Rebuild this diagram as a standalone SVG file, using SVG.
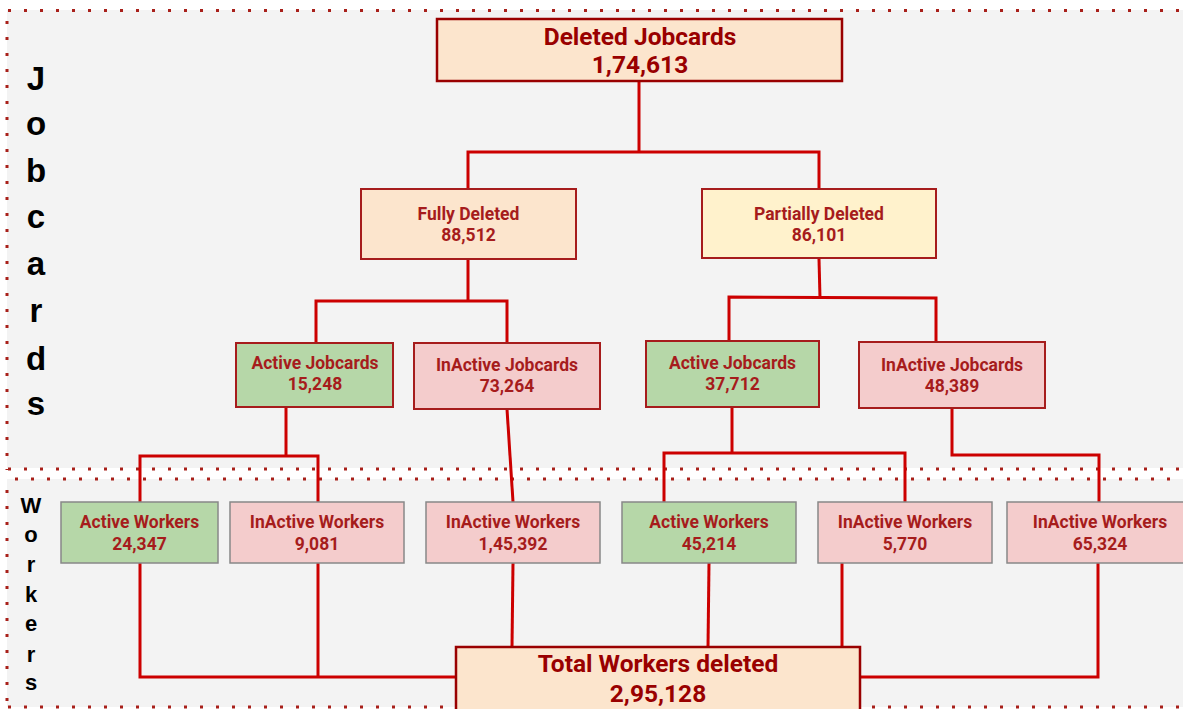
<svg xmlns="http://www.w3.org/2000/svg" width="1183" height="709" viewBox="0 0 1183 709">
<style>
.panel{fill:#f3f3f3}
.dot{fill:none;stroke:#a8201a;stroke-width:3;stroke-dasharray:3 13}
.side{font-family:"Liberation Sans",Arial,sans-serif;font-weight:bold;fill:#000;text-anchor:middle}
.conn{fill:none;stroke:#cc0000;stroke-width:3;stroke-linejoin:miter}
.peach{fill:#fce5cd}
.yellow{fill:#fff2cc}
.green{fill:#b6d7a8}
.pink{fill:#f4cccc}
.jb{stroke:#a61c1c;stroke-width:2}
.big{stroke:#990000;stroke-width:2.5}
.wk{stroke:#888888;stroke-width:1.5}
.t{font-family:Roboto,"Liberation Sans",sans-serif;font-weight:bold;text-anchor:middle;fill:#a61c1c;font-size:17.5px}
.tb{font-family:Roboto,"Liberation Sans",sans-serif;font-weight:bold;text-anchor:middle;fill:#990000;font-size:24.5px}
</style>
<rect width="1183" height="709" fill="#ffffff"/>
<g id="panels">
<rect class="panel" x="7" y="10" width="1176" height="458"/>
<rect class="panel" x="7" y="479" width="1176" height="228"/>
<line class="dot" x1="8" y1="10.5" x2="1183" y2="10.5"/>
<line class="dot" x1="7" y1="21" x2="7" y2="470"/>
<line class="dot" x1="8" y1="469" x2="1183" y2="469"/>
<line class="dot" x1="15" y1="479" x2="1183" y2="479"/>
<line class="dot" x1="7" y1="490" x2="7" y2="709"/>
<line class="dot" x1="8" y1="707" x2="1183" y2="707"/>
</g>
<g id="label-jobcards" class="side" font-size="33">
<text x="36" y="90">J</text>
<text x="36" y="135">o</text>
<text x="36" y="182">b</text>
<text x="36" y="228">c</text>
<text x="36" y="275">a</text>
<text x="36" y="322">r</text>
<text x="36" y="370">d</text>
<text x="36" y="415">s</text>
</g>
<g id="label-workers" class="side" font-size="22">
<text x="31" y="513">W</text>
<text x="31" y="542">o</text>
<text x="31" y="572">r</text>
<text x="31" y="602">k</text>
<text x="31" y="631">e</text>
<text x="31" y="662">r</text>
<text x="31" y="690">s</text>
</g>
<g id="connectors" class="conn">
<polyline points="639,81 639,152"/>
<polyline points="468,189 468,152 819,152 819,189"/>
<polyline points="468,259 468,301"/>
<polyline points="316,343 316,301 507,301 507,343"/>
<polyline points="819,259 820,298"/>
<polyline points="729,341 729,297 936,298 936,342"/>
<polyline points="286,407 286,456"/>
<polyline points="140,502 140,456 318,456 318,502"/>
<polyline points="507,409 513,502"/>
<polyline points="732,407 732,453"/>
<polyline points="664,502 664,453 905,453 905,502"/>
<polyline points="952,408 952,455 1099,455 1099,502"/>
<polyline points="140,563 140,677 456,677"/>
<polyline points="318,563 318,677"/>
<polyline points="513,563 512,647"/>
<polyline points="709,563 708,647"/>
<polyline points="842,563 842,647"/>
<polyline points="1098,556 1098,677 860,677"/>
</g>
<g id="n-deleted-jobcards">
<rect class="peach big" x="437" y="19" width="405" height="62"/>
<text class="tb" x="640" y="45">Deleted Jobcards</text>
<text class="tb" x="640" y="73">1,74,613</text>
</g>
<g id="n-fully-deleted">
<rect class="peach jb" x="361" y="189" width="215" height="70"/>
<text class="t" x="468.5" y="220">Fully Deleted</text>
<text class="t" x="468.5" y="241">88,512</text>
</g>
<g id="n-partially-deleted">
<rect class="yellow jb" x="702" y="189" width="234" height="69"/>
<text class="t" x="819" y="220">Partially Deleted</text>
<text class="t" x="819" y="241">86,101</text>
</g>
<g id="n-active-jobcards-1">
<rect class="green jb" x="236" y="343" width="157" height="64"/>
<text class="t" x="315" y="369">Active Jobcards</text>
<text class="t" x="315" y="390">15,248</text>
</g>
<g id="n-inactive-jobcards-1">
<rect class="pink jb" x="414" y="343" width="186" height="66"/>
<text class="t" x="507" y="371">InActive Jobcards</text>
<text class="t" x="507" y="392">73,264</text>
</g>
<g id="n-active-jobcards-2">
<rect class="green jb" x="646" y="341" width="173" height="66"/>
<text class="t" x="732.5" y="369">Active Jobcards</text>
<text class="t" x="732.5" y="390">37,712</text>
</g>
<g id="n-inactive-jobcards-2">
<rect class="pink jb" x="859" y="342" width="186" height="66"/>
<text class="t" x="952" y="371">InActive Jobcards</text>
<text class="t" x="952" y="392">48,389</text>
</g>
<g id="n-active-workers-1">
<rect class="green wk" x="61" y="502" width="157" height="61"/>
<text class="t" x="139.5" y="528">Active Workers</text>
<text class="t" x="139.5" y="550">24,347</text>
</g>
<g id="n-inactive-workers-1">
<rect class="pink wk" x="230" y="502" width="174" height="61"/>
<text class="t" x="317" y="528">InActive Workers</text>
<text class="t" x="317" y="550">9,081</text>
</g>
<g id="n-inactive-workers-2">
<rect class="pink wk" x="426" y="502" width="174" height="61"/>
<text class="t" x="513" y="528">InActive Workers</text>
<text class="t" x="513" y="550">1,45,392</text>
</g>
<g id="n-active-workers-2">
<rect class="green wk" x="622" y="502" width="174" height="61"/>
<text class="t" x="709" y="528">Active Workers</text>
<text class="t" x="709" y="550">45,214</text>
</g>
<g id="n-inactive-workers-3">
<rect class="pink wk" x="818" y="502" width="174" height="61"/>
<text class="t" x="905" y="528">InActive Workers</text>
<text class="t" x="905" y="550">5,770</text>
</g>
<g id="n-inactive-workers-4">
<rect class="pink wk" x="1007" y="502" width="185" height="61"/>
<text class="t" x="1100" y="528">InActive Workers</text>
<text class="t" x="1100" y="550">65,324</text>
</g>
<g id="n-total-workers">
<rect class="peach big" x="456" y="647" width="404" height="70"/>
<text class="tb" x="658" y="672">Total Workers deleted</text>
<text class="tb" x="658" y="702">2,95,128</text>
</g>
</svg>
